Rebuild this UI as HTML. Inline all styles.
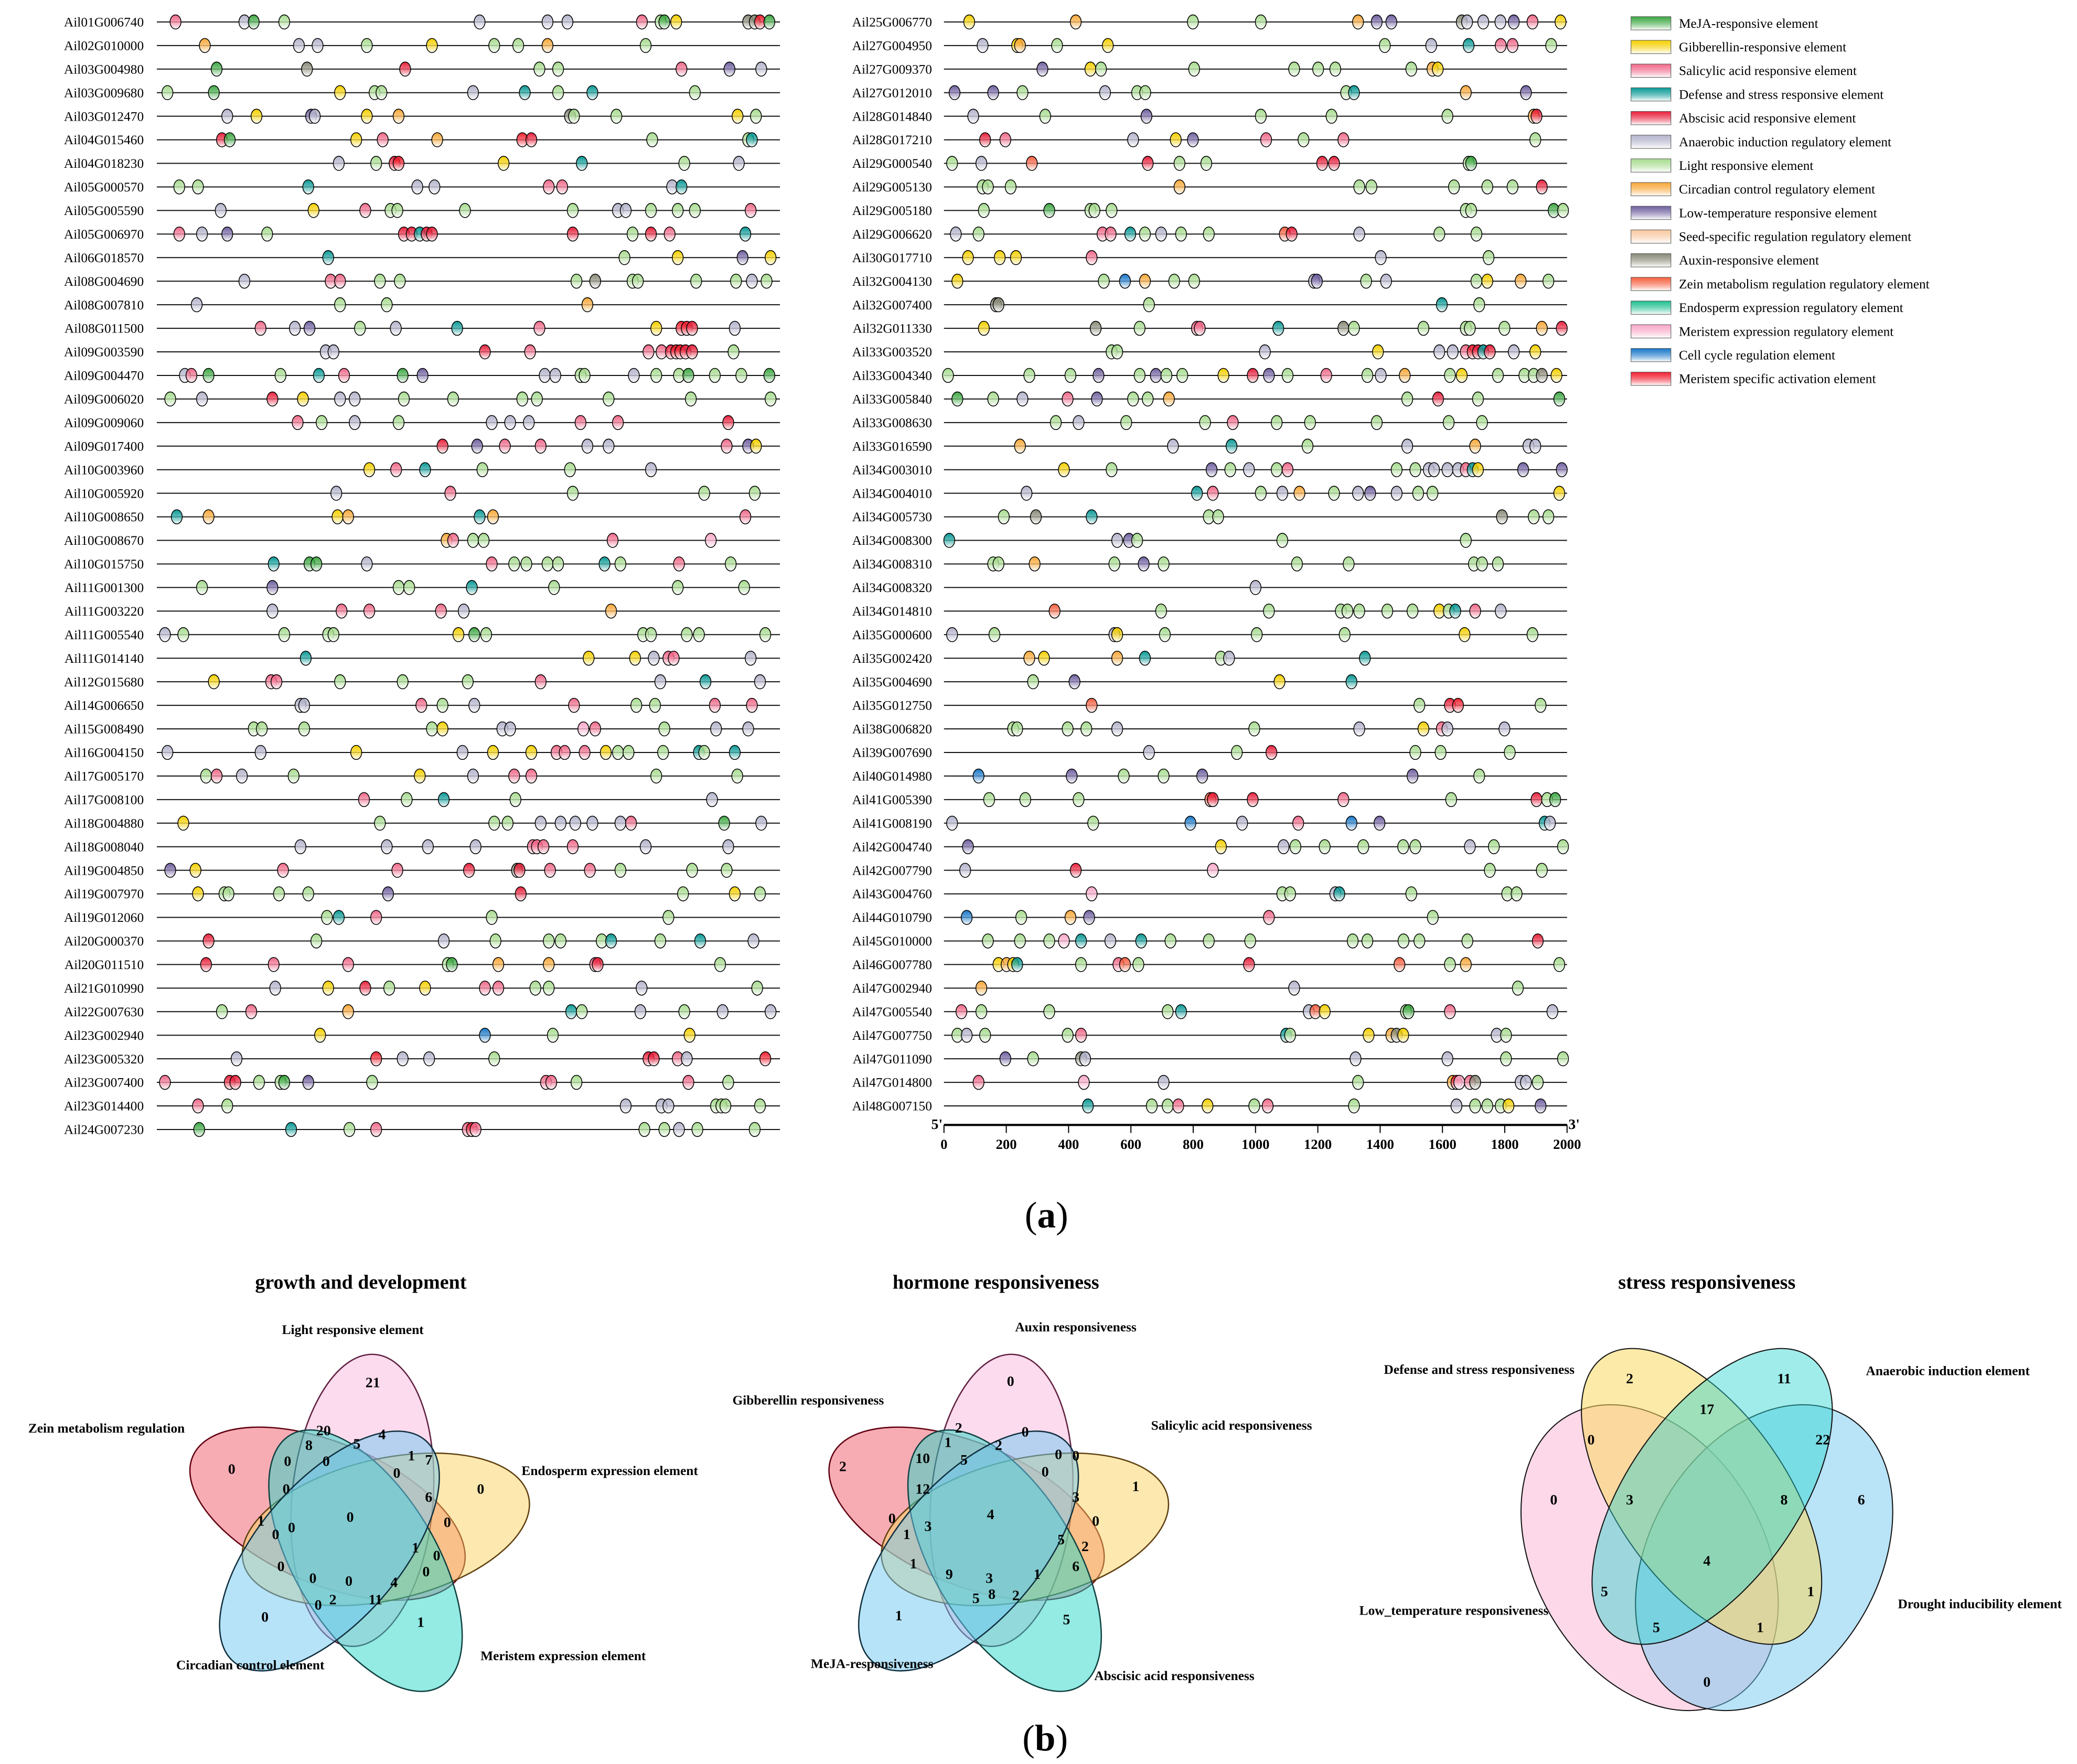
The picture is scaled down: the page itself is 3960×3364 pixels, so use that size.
<!DOCTYPE html>
<html><head><meta charset="utf-8"><style>
html,body{margin:0;padding:0;background:#fff}
svg{display:block}
text{font-family:"Liberation Serif",serif}
.vl{font-size:10px;font-weight:bold}
.vn{font-size:11px;font-weight:bold;text-anchor:middle}
.vt{font-size:15px;font-weight:bold;text-anchor:middle}
</style></head><body>
<svg id="fig" width="3960" height="3364" viewBox="0 0 1560 1325" preserveAspectRatio="none" xmlns="http://www.w3.org/2000/svg">
<defs id="defs"></defs>
<g id="rowsL"></g>
<g id="rowsR"></g>
<g id="axis"></g>
<g id="legend"></g>
<text x="786" y="922" text-anchor="middle" font-size="28">(<tspan font-weight="bold">a</tspan>)</text>
<text x="785" y="1315" text-anchor="middle" font-size="28">(<tspan font-weight="bold">b</tspan>)</text>

<g>
<text class="vt" x="271" y="968">growth and development</text>
<g id="v1" stroke-width="1"></g>
<text class="vl" x="265" y="1002" text-anchor="middle">Light responsive element</text>
<text class="vl" x="80" y="1076" text-anchor="middle">Zein metabolism regulation</text>
<text class="vl" x="458" y="1108" text-anchor="middle">Endosperm expression element</text>
<text class="vl" x="188" y="1254" text-anchor="middle">Circadian control element</text>
<text class="vl" x="423" y="1247" text-anchor="middle">Meristem expression element</text>
<g>
<text class="vn" x="280" y="1042">21</text><text class="vn" x="243" y="1078">20</text><text class="vn" x="287" y="1081">4</text><text class="vn" x="232" y="1089">8</text><text class="vn" x="268" y="1088">5</text><text class="vn" x="309" y="1097">1</text><text class="vn" x="322" y="1100">7</text><text class="vn" x="174" y="1107">0</text><text class="vn" x="216" y="1101">0</text><text class="vn" x="245" y="1101">0</text><text class="vn" x="298" y="1110">0</text><text class="vn" x="361" y="1122">0</text><text class="vn" x="215" y="1122">0</text><text class="vn" x="322" y="1128">6</text><text class="vn" x="263" y="1143">0</text><text class="vn" x="196" y="1146">1</text><text class="vn" x="219" y="1151">0</text><text class="vn" x="336" y="1147">0</text><text class="vn" x="207" y="1156">0</text><text class="vn" x="312" y="1166">1</text><text class="vn" x="328" y="1172">0</text><text class="vn" x="211" y="1180">0</text><text class="vn" x="320" y="1184">0</text><text class="vn" x="235" y="1189">0</text><text class="vn" x="262" y="1191">0</text><text class="vn" x="296" y="1192">4</text><text class="vn" x="250" y="1205">2</text><text class="vn" x="282" y="1205">11</text><text class="vn" x="239" y="1209">0</text><text class="vn" x="199" y="1218">0</text><text class="vn" x="316" y="1222">1</text>
</g></g>

<g>
<text class="vt" x="748" y="968">hormone responsiveness</text>
<g id="v2" stroke-width="1"></g>
<text class="vl" x="808" y="1000" text-anchor="middle">Auxin responsiveness</text>
<text class="vl" x="607" y="1055" text-anchor="middle">Gibberellin responsiveness</text>
<text class="vl" x="925" y="1074" text-anchor="middle">Salicylic acid responsiveness</text>
<text class="vl" x="655" y="1253" text-anchor="middle">MeJA-responsiveness</text>
<text class="vl" x="882" y="1262" text-anchor="middle">Abscisic acid responsiveness</text>
<g>
<text class="vn" x="759" y="1041">0</text><text class="vn" x="720" y="1076">2</text><text class="vn" x="770" y="1079">0</text><text class="vn" x="750" y="1089">2</text><text class="vn" x="795" y="1096">0</text><text class="vn" x="808" y="1097">0</text><text class="vn" x="712" y="1087">1</text><text class="vn" x="693" y="1099">10</text><text class="vn" x="724" y="1100">5</text><text class="vn" x="785" y="1109">0</text><text class="vn" x="633" y="1105">2</text><text class="vn" x="853" y="1120">1</text><text class="vn" x="808" y="1128">3</text><text class="vn" x="693" y="1122">12</text><text class="vn" x="744" y="1141">4</text><text class="vn" x="823" y="1146">0</text><text class="vn" x="670" y="1144">0</text><text class="vn" x="681" y="1156">1</text><text class="vn" x="697" y="1150">3</text><text class="vn" x="797" y="1160">5</text><text class="vn" x="815" y="1165">2</text><text class="vn" x="686" y="1178">1</text><text class="vn" x="713" y="1186">9</text><text class="vn" x="743" y="1189">3</text><text class="vn" x="779" y="1186">1</text><text class="vn" x="808" y="1180">6</text><text class="vn" x="733" y="1204">5</text><text class="vn" x="745" y="1201">8</text><text class="vn" x="763" y="1202">2</text><text class="vn" x="675" y="1217">1</text><text class="vn" x="801" y="1220">5</text>
</g></g>

<g>
<text class="vt" x="1282" y="968">stress responsiveness</text>
<g stroke="#111" stroke-width="0.8">
<ellipse cx="1239" cy="1170" rx="86" ry="123" transform="rotate(-30 1239 1170)" fill="#f9b8d6" fill-opacity="0.55"/>
<ellipse cx="1325" cy="1170" rx="86" ry="123" transform="rotate(30 1325 1170)" fill="#74c8f0" fill-opacity="0.5"/>
<ellipse cx="1278" cy="1124" rx="64" ry="128" transform="rotate(-35 1278 1124)" fill="#fad860" fill-opacity="0.55"/>
<ellipse cx="1286" cy="1124" rx="64" ry="128" transform="rotate(35 1286 1124)" fill="#2cd4d0" fill-opacity="0.45"/>
</g>
<text class="vl" x="1111" y="1032" text-anchor="middle">Defense and stress responsiveness</text>
<text class="vl" x="1463" y="1033" text-anchor="middle">Anaerobic induction element</text>
<text class="vl" x="1092" y="1213" text-anchor="middle">Low_temperature responsiveness</text>
<text class="vl" x="1487" y="1208" text-anchor="middle">Drought inducibility element</text>
<g>
<text class="vn" x="1224" y="1039">2</text><text class="vn" x="1340" y="1039">11</text><text class="vn" x="1282" y="1062">17</text><text class="vn" x="1195" y="1085">0</text><text class="vn" x="1369" y="1085">22</text><text class="vn" x="1167" y="1130">0</text><text class="vn" x="1224" y="1130">3</text><text class="vn" x="1340" y="1130">8</text><text class="vn" x="1398" y="1130">6</text><text class="vn" x="1282" y="1176">4</text><text class="vn" x="1205" y="1199">5</text><text class="vn" x="1360" y="1199">1</text><text class="vn" x="1244" y="1226">5</text><text class="vn" x="1322" y="1226">1</text><text class="vn" x="1282" y="1267">0</text>
</g></g>
</svg>
<script>
const typeCodes = ["g","y","s","d","a","n","l","c","t","p","x","z","e","m","b","r"];
const typeNames = ["MeJA-responsive element","Gibberellin-responsive element","Salicylic acid responsive element","Defense and stress responsive element","Abscisic acid responsive element","Anaerobic induction regulatory element","Light responsive element","Circadian control regulatory element","Low-temperature responsive element","Seed-specific regulation regulatory element","Auxin-responsive element","Zein metabolism regulation regulatory element","Endosperm expression regulatory element","Meristem expression regulatory element","Cell cycle regulation element","Meristem specific activation element"];
const typeColors = ["#3da843","#f5d000","#f06a8a","#0a9a96","#e8213c","#b4b4cc","#a8dc90","#f8a838","#7060a0","#f8c8a0","#8a8a78","#f56040","#20c090","#f8a8c8","#1a78c8","#f02030"];

const genesLeft = ["Ail01G006740","Ail02G010000","Ail03G004980","Ail03G009680","Ail03G012470","Ail04G015460","Ail04G018230","Ail05G000570","Ail05G005590","Ail05G006970","Ail06G018570","Ail08G004690","Ail08G007810","Ail08G011500","Ail09G003590","Ail09G004470","Ail09G006020","Ail09G009060","Ail09G017400","Ail10G003960","Ail10G005920","Ail10G008650","Ail10G008670","Ail10G015750","Ail11G001300","Ail11G003220","Ail11G005540","Ail11G014140","Ail12G015680","Ail14G006650","Ail15G008490","Ail16G004150","Ail17G005170","Ail17G008100","Ail18G004880","Ail18G008040","Ail19G004850","Ail19G007970","Ail19G012060","Ail20G000370","Ail20G011510","Ail21G010990","Ail22G007630","Ail23G002940","Ail23G005320","Ail23G007400","Ail23G014400","Ail24G007230"];
const sitesLeft = [
"60s 281n 311g 409l 1036n 1254n 1318n 1557s 1617l 1629g 1667y 1898x 1919x 1936r 1966g",
"154c 456n 516n 674l 883y 1083l 1160l 1254c 1569l",
"192g 482x 797a 1228l 1288l 1684s 1838t 1940n",
"34l 183g 588y 699l 721l 1015n 1181d 1288l 1398d 1727l",
"226n 320y 495t 507n 674y 776c 1326x 1339l 1475l 1864y 1923l",
"209a 234g 640y 725s 900c 1173r 1202a 1590l 1898l 1910d",
"584n 704l 763a 776r 1113y 1364d 1693l 1868n",
"72l 132l 486d 836n 891n 1258s 1301s 1654n 1684d",
"205n 503y 669s 750l 772l 989l 1335l 1480n 1505n 1586l 1672l 1727l 1906s",
"72s 145n 226t 354l 793a 818a 844d 866a 883a 1335a 1527l 1586a 1646s 1889d",
"550d 1501l 1672y 1880t 1970y",
"281n 558s 588s 716l 780l 1347l 1407x 1527l 1544l 1731l 1859l 1910n 1957l",
"128n 588l 738l 1382c",
"333s 443n 490t 652l 767n 964d 1228s 1603y 1684r 1701r 1718a 1855n",
"542n 567n 1053a 1198s 1578s 1620s 1650a 1667r 1680r 1697a 1718a 1851l",
"90n 111s 166g 397l 520d 601s 789g 853t 1245n 1279n 1360l 1373l 1531n 1603l 1676l 1706g 1791l 1876l 1966g",
"43l 145n 371a 469y 588n 635n 793l 951l 1173l 1220l 1450l 1714l 1970l",
"452s 529l 635n 776l 1075n 1134n 1194n 1360s 1480s 1834a",
"917a 1028t 1117s 1232s 1382n 1450n 1829s 1898t 1923y",
"682y 768s 861d 1045l 1326l 1586n",
"576n 942s 1335l 1757l 1919l",
"64d 166c 580y 614c 1036d 1079c 1889s",
"930c 951s 1015l 1049l 1463s 1778m",
"375d 490g 512g 674n 1075s 1147l 1186l 1254l 1288l 1437d 1488l 1676s 1842l",
"145l 371t 776l 810l 1011d 1275l 1672l 1885l",
"371n 593s 682s 912s 985n 1458c",
"26n 85l 409l 550l 567l 968y 1019g 1057l 1561l 1586l 1701l 1740l 1953l",
"478d 1386y 1535y 1595n 1642s 1659s 1906n",
"183y 367s 384s 588l 789l 998l 1232s 1616n 1761d 1936n",
"461n 473n 849s 917l 1019n 1339s 1539l 1599l 1791s 1910s",
"311l 337l 473l 883l 917y 1109n 1134n 1369m 1407s 1629l 1795n 1898n",
"34n 333n 640y 981n 1079y 1202y 1283s 1309s 1373s 1441y 1480l 1514l 1625l 1740d 1757l 1855d",
"158l 192s 273n 439l 844y 1015n 1147s 1202s 1603l 1863l",
"665s 802l 921d 1151l 1782n",
"85y 716l 1083l 1126l 1232n 1296n 1343n 1398n 1488n 1522s 1821g 1940n",
"461n 738n 870n 1023n 1207s 1220s 1241s 1335s 1569n 1834n",
"43t 124y 405s 772s 1002a 1156x 1164a 1262s 1390s 1488l 1718l 1829l",
"132y 217l 230l 392l 486l 742t 1168a 1689l 1855y 1936l",
"546l 584d 704s 1075l 1642l",
"166a 512l 921n 1087l 1258l 1296l 1428l 1458d 1616l 1744d 1915n",
"158a 375s 614s 934l 947g 1096c 1258c 1407s 1415a 1808l",
"380n 550y 669a 746l 861y 1053s 1096s 1215l 1258l 1556n 1927l",
"209l 303s 614c 1330d 1364l 1552n 1693l 1816n 1970n",
"524y 1053b 1271l 1710y",
"256n 704r 789n 874n 1083l 1578a 1595a 1672s 1701n 1953r",
"26s 234a 252a 328l 397l 409g 486t 691l 1249s 1266s 1347l 1706s 1834l",
"132s 226l 1505n 1620n 1642n 1795l 1812l 1825l 1936l",
"136g 431d 618l 704s 998s 1011a 1023s 1565l 1629l 1676n 1735l 1919l"
];

const genesRight = ["Ail25G006770","Ail27G004950","Ail27G009370","Ail27G012010","Ail28G014840","Ail28G017210","Ail29G000540","Ail29G005130","Ail29G005180","Ail29G006620","Ail30G017710","Ail32G004130","Ail32G007400","Ail32G011330","Ail33G003520","Ail33G004340","Ail33G005840","Ail33G008630","Ail33G016590","Ail34G003010","Ail34G004010","Ail34G005730","Ail34G008300","Ail34G008310","Ail34G008320","Ail34G014810","Ail35G000600","Ail35G002420","Ail35G004690","Ail35G012750","Ail38G006820","Ail39G007690","Ail40G014980","Ail41G005390","Ail41G008190","Ail42G004740","Ail42G007790","Ail43G004760","Ail44G010790","Ail45G010000","Ail46G007780","Ail47G002940","Ail47G005540","Ail47G007750","Ail47G011090","Ail47G014800","Ail48G007150"];
const sitesRight = [
"81y 423c 799l 1017l 1329c 1389t 1436t 1662x 1679n 1731n 1786n 1829t 1889s 1979y",
"124n 235y 244c 363l 526y 1415l 1564n 1684d 1787s 1825s 1949l",
"316t 470y 504l 803l 1124l 1201l 1256l 1500l 1568c 1585y",
"34t 158t 252l 517n 620l 646l 1291l 1316d 1675c 1868t",
"94n 325l 650t 1017l 1244l 1616l 1893c 1902a",
"132a 197s 607n 744y 799t 1034s 1154l 1282s 1898l",
"26l 120n 282z 654a 756l 842l 1214a 1252a 1684l 1692g",
"124l 141l 214l 756c 1333l 1372l 1637l 1744l 1825l 1919a",
"128l 338g 470l 483l 538l 1675l 1692l 1957g 1987l",
"38n 111l 509s 535s 598d 645l 697n 761l 850l 1094z 1116a 1333n 1590l 1709l",
"77y 179y 231y 474s 1402n 1748l",
"43y 513l 581b 645c 739l 803l 1188n 1197t 1355l 1419n 1709l 1744y 1851c 1940l",
"167x 175x 658l 1598d 1718l",
"128y 487x 628l 812s 821s 1073d 1282x 1316l 1539l 1675l 1688l 1799l 1919c 1983a",
"538l 556l 1030n 1393y 1590n 1633n 1675s 1697r 1714a 1731d 1752a 1829n 1898y",
"13l 274l 406l 496t 628l 680t 714l 765l 897y 991a 1043t 1103l 1227s 1359l 1402n 1479c 1624l 1662y 1778l 1863l 1893l 1919x 1966y",
"43g 158l 252n 397s 491t 607l 654l 722c 1487l 1586a 1714l 1975g",
"359l 432n 585l 838l 927s 1068l 1175l 1389l 1620l 1727l",
"244c 735n 923d 1167l 1487n 1705c 1876n 1898n",
"385y 538l 859t 919l 979n 1068l 1103s 1453l 1513l 1556n 1573n 1616n 1650n 1675s 1697d 1714y 1859t 1983t",
"265n 812d 863s 1017l 1086n 1141c 1252l 1329n 1368t 1453n 1522l 1568l 1975y",
"192l 295x 474d 850l 880l 1791x 1893l 1940l",
"17d 556n 594t 620l 1086l 1675l",
"158l 175l 291c 547l 641t 705l 1133l 1299l 1701l 1727l 1778l",
"1000n",
"355z 697l 1043l 1274l 1295l 1333l 1423l 1504l 1590y 1620l 1641d 1705s 1787n",
"26n 162l 547n 556y 709l 1004l 1286l 1671y 1889l",
"274c 321y 556c 645d 889l 915n 1351d",
"286l 419t 1077y 1308d",
"474z 1526l 1624a 1650r 1915l",
"222l 235l 397l 457l 556n 996l 1333n 1539y 1598s 1616n 1799n",
"658n 940l 1051a 1513l 1594l 1816l",
"111b 410t 577l 705l 829t 1504t 1718l",
"145l 261l 432l 855z 863a 991a 1282s 1628l 1902a 1936l 1962g",
"26n 479l 791b 957n 1137s 1308b 1398t 1928d 1945n",
"77t 889y 1090n 1128l 1222l 1346l 1474l 1513l 1688n 1765l 1987l",
"68n 423a 863m 1752l 1919l",
"474m 1086l 1111l 1256n 1269d 1500l 1808l 1838l",
"73b 248l 406c 466t 1043s 1569l",
"141l 244l 338l 385m 440d 534n 633d 727l 850l 983l 1312l 1359l 1475l 1526l 1680l 1906a",
"175y 201c 222y 235d 440l 560s 581z 624l 979a 1462z 1624l 1675c 1975l",
"120c 1124n 1842l",
"56s 120l 338l 718l 761d 1171n 1192z 1222y 1483l 1491g 1624s 1953n",
"43l 73n 132l 397l 440s 1098d 1111l 1363y 1436c 1453x 1474y 1774n 1804l",
"197t 286l 440x 453n 1321n 1616n 1804l 1987l",
"111s 449m 705n 1329l 1633c 1645a 1654m 1688s 1705x 1851n 1868n 1906l",
"462d 667l 718l 752s 846y 996l 1039s 1316l 1645n 1705l 1744l 1787l 1812y 1915t"
];
const axisTicks = [0,200,400,600,800,1000,1200,1400,1600,1800,2000];

const NS = "http://www.w3.org/2000/svg";
function mk(tag, attrs, parent){const e=document.createElementNS(NS,tag);for(const k in attrs)e.setAttribute(k,attrs[k]);parent.appendChild(e);return e;}
const defs = document.getElementById("defs");
typeCodes.forEach((c,i)=>{
  const g = mk("linearGradient",{id:"gr_"+c,x1:"0",y1:"0",x2:"0",y2:"1"},defs);
  mk("stop",{offset:"0",  "stop-color":typeColors[i]},g);
  mk("stop",{offset:"0.35","stop-color":typeColors[i],"stop-opacity":"0.75"},g);
  mk("stop",{offset:"1",  "stop-color":"#ffffff"},g);
});
const TOP = 16.5, STEP = 17.7, LEN = 468;
function xScale(x0, bp){ return x0 + bp/2000*LEN; }
function yScale(i){ return TOP + i*STEP; }

function drawPanel(groupId, genes, sites, x0, labelX){
  const grp = document.getElementById(groupId);
  genes.forEach((gene,i)=>{
    const y = yScale(i);
    const row = mk("g",{},grp);
    
    
    const t = mk("text",{x:labelX,y:y+3.4,"text-anchor":"end","font-size":"10"},row);
    t.textContent = gene;
    
    
    const ln = mk("line",{x1:x0,x2:x0+LEN,y1:y,y2:y,stroke:"#111","stroke-width":"0.8"},row);
    
    
    sites[i].split(" ").forEach(tok=>{
      const bp = parseFloat(tok), c = tok.slice(-1);
      const el = mk("ellipse",{cx:xScale(x0,bp),cy:y,rx:4.1,ry:5.3,fill:"url(#gr_"+c+")",stroke:"#000","stroke-width":"0.6"},row);
      
      
    });
  });
}
drawPanel("rowsL", genesLeft, sitesLeft, 117.8, 108);
drawPanel("rowsR", genesRight, sitesRight, 709, 700);

const ax = document.getElementById("axis");
const AY = 845, AX0 = 709;
const al = mk("line",{x1:AX0,x2:AX0+LEN,y1:AY,y2:AY,stroke:"#000","stroke-width":"1.6"},ax);


axisTicks.forEach(v=>{
  const x = xScale(AX0, v);
  const tk = mk("line",{x1:x,x2:x,y1:AY,y2:AY+6,stroke:"#000","stroke-width":"0.8"},ax);
  
  
  const tl = mk("text",{x:x,y:AY+18,"text-anchor":"middle","font-size":"10.5","font-weight":"bold"},ax);
  tl.textContent = String(v);
  
  
});
const p5 = mk("text",{x:AX0-1,y:AY+3,"text-anchor":"end","font-size":"11","font-weight":"bold"},ax);
p5.textContent = "5'";


const p3 = mk("text",{x:AX0+LEN+1,y:AY+3,"font-size":"11","font-weight":"bold"},ax);
p3.textContent = "3'";



const lg = document.getElementById("legend");
typeCodes.forEach((c,i)=>{
  const y = 17.5 + i*17.8;
  const ent = mk("g",{},lg);
  
  
  mk("rect",{x:1225,y:y-5,width:30,height:10,fill:"url(#gr_"+c+")",stroke:"#555","stroke-width":"0.4"},ent);
  const t = mk("text",{x:1261,y:y+3.3,"font-size":"10"},ent);
  t.textContent = typeNames[i];
});

// five-set venns: base ellipse offset from centre and tilted, rotated 72deg each
function venn5(id, cx, cy, specs){
  const g = document.getElementById(id);
  const bx = -20, by = -13, bang = 23;
  specs.forEach((s,k)=>{
    const r = k*72*Math.PI/180;
    const ex = cx + bx*Math.cos(r) - by*Math.sin(r);
    const ey = cy + bx*Math.sin(r) + by*Math.cos(r);
    const ang = bang + k*72;
    const e = mk("ellipse",{cx:ex,cy:ey,rx:110,ry:53,fill:s[0],"fill-opacity":"0.5",stroke:s[1],
      transform:"rotate("+ang+" "+ex+" "+ey+")"},g);
    
    
  });
}
const vennSpecs1 = [["#f05a6a","#600010","venn1-zein-ellipse"],["#f8b8dc","#602040","venn1-light-ellipse"],["#fcd460","#604010","venn1-endosperm-ellipse"],["#28d8c8","#104040","venn1-meristem-ellipse"],["#70c8f2","#103040","venn1-circadian-ellipse"]];
const vennSpecs2 = [["#f05a6a","#600010","venn2-gibberellin-ellipse"],["#f8b8dc","#602040","venn2-auxin-ellipse"],["#fcd460","#604010","venn2-salicylic-ellipse"],["#28d8c8","#104040","venn2-abscisic-ellipse"],["#70c8f2","#103040","venn2-meja-ellipse"]];
venn5("v1", 266, 1150, vennSpecs1);
venn5("v2", 746, 1150, vennSpecs2);
</script>
</body></html>
